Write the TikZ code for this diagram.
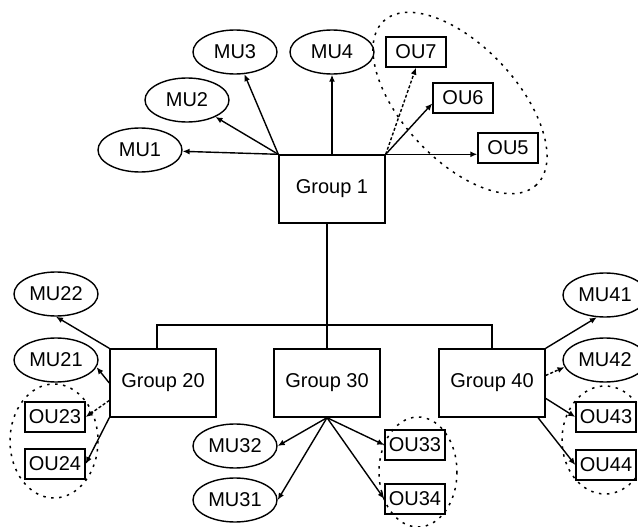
\documentclass[tikz,border=0pt]{standalone}
\usepackage{fontspec}
\setmainfont{Liberation Sans}
\usetikzlibrary{arrows.meta, shapes.geometric}

\begin{document}
\begin{tikzpicture}[x=1pt, y=-1pt, line width=1.4pt,
    font=\fontsize{20}{24}\selectfont,
    grp/.style = {draw, minimum width=106pt, minimum height=68pt, inner sep=0pt},
    mu/.style = {draw, ellipse, minimum width=84pt, minimum height=44pt, inner sep=0pt},
    ou/.style = {draw, rectangle, minimum width=60pt, minimum height=30pt, inner sep=0pt},
    arr/.style = {-{Latex[length=7pt,width=6pt]}},
    team/.style = {line width=1.5pt, dash pattern=on 2.5pt off 5.5pt}]
    \useasboundingbox (0,0) rectangle (638,527);

    \node[grp] (g1) at (332,189) {Group 1};
    \node[mu] (mu1) at (140,150) {MU1};
    \node[mu] (mu2) at (187,100) {MU2};
    \node[mu] (mu3) at (235,52) {MU3};
    \node[mu] (mu4) at (332,52) {MU4};
    \node[ou] (ou7) at (416,52) {OU7};
    \node[ou] (ou6) at (463,98) {OU6};
    \node[ou] (ou5) at (508,148) {OU5};

    \node[grp] (g20) at (163,383) {Group 20};
    \node[grp] (g30) at (327,383) {Group 30};
    \node[grp] (g40) at (492,383) {Group 40};

    \node[mu] (mu22) at (56,294) {MU22};
    \node[mu] (mu21) at (56,360) {MU21};
    \node[ou] (ou23) at (55,417) {OU23};
    \node[ou] (ou24) at (55,464) {OU24};

    \node[mu] (mu32) at (235,446) {MU32};
    \node[mu] (mu31) at (235,500) {MU31};
    \node[ou] (ou33) at (415,445) {OU33};
    \node[ou] (ou34) at (415,499) {OU34};

    \node[mu] (mu41) at (605,295) {MU41};
    \node[mu] (mu42) at (605,360) {MU42};
    \node[ou] (ou43) at (606,417) {OU43};
    \node[ou] (ou44) at (606,465) {OU44};

    % dotted groups
    \draw[team, rotate around={-47:(460,103)}] (460,103) ellipse (112 and 57);
    \draw[team] (54,441) ellipse (44 and 57);
    \draw[team] (418,472) ellipse (39 and 55);
    \draw[team] (605,440) ellipse (43 and 54);

    % bus
    \coordinate (bus) at (327,325);
    \draw (g30.north |- g1.south) -- (g30.north);
    \draw ([xshift=-6pt]g20.north) |- (bus) -| (g40.north);

    \draw[arr] (g1.north west) -- (mu1);
    \draw[arr] (g1.north west) -- (mu2);
    \draw[arr] (g1.north west) -- (mu3);
    \draw[arr] (g1.north) -- (mu4);
    \draw[arr, densely dashed] (g1.north east) -- (ou7.south);
    \draw[arr] (g1.north east) -- (ou6.190);
    \draw[arr] (g1.north east) -- (g1.north east -| ou5.west);

    \draw[arr] (g20.north west) -- (mu22.south);
    \draw[arr] (g20.west) -- (mu21.-10);
    \draw[arr, densely dashed] (g20.198) -- (ou23.east);
    \draw[arr] (g20.south west) -- (ou24.east);

    \draw[arr] (g30.south) -- (mu32.east);
    \draw[arr] (g30.south) -- (mu31.east);
    \draw[arr] (g30.south) -- (ou33.west);
    \draw[arr] (g30.south) -- (ou34.west);

    \draw[arr] (g40.north east) -- (mu41.250);
    \draw[arr, densely dashed] (g40.8) -- (mu42.190);
    \draw[arr] (g40.-16) -- (ou43.west);
    \draw[arr] (g40.-37) -- (ou44.west);
\end{tikzpicture}
\end{document}
